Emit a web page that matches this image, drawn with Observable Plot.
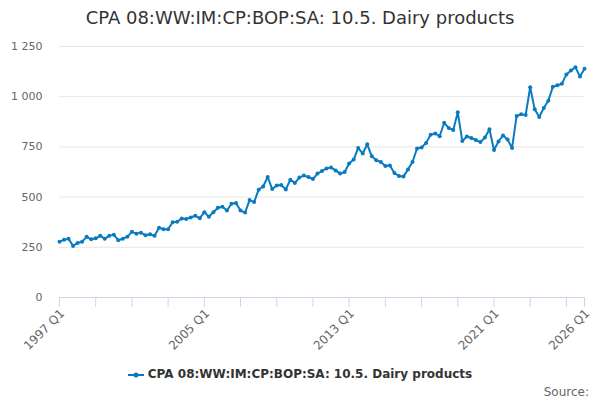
<!DOCTYPE html>
<html>
<head>
<meta charset="utf-8">
<script src="https://cdn.jsdelivr.net/npm/d3@7"></script>
<script src="https://cdn.jsdelivr.net/npm/@observablehq/plot@0.6"></script>
<style>
  html, body { margin: 0; padding: 0; background: #fff; }
  body { width: 600px; height: 400px; overflow: hidden; font-family: "DejaVu Sans", sans-serif; position: relative; }
  #title { height: 36px; line-height: 36px; text-align: center; font-size: 18px; color: #333; }
  #legend { position: absolute; top: 367px; left: 0; width: 600px; text-align: center; font-size: 12px; font-weight: bold; color: #333; }
  #legend svg { vertical-align: middle; margin-right: 4px; }
  #source { position: absolute; top: 385px; right: 11px; font-size: 12px; color: #666; }
</style>
</head>
<body>
<div id="title">CPA 08:WW:IM:CP:BOP:SA: 10.5. Dairy products</div>
<div id="chart"></div>
<div id="legend"></div>
<div id="source">Source:</div>
<script>
const seriesName = "CPA 08:WW:IM:CP:BOP:SA: 10.5. Dairy products";
const startYear = 1997;
const values = [
  278, 287, 293, 257, 272, 278, 302, 290, 295, 307,
  293, 307, 313, 285, 293, 303, 327, 318, 323, 310,
  315, 307, 347, 340, 340, 375, 377, 393, 391, 399,
  407, 395, 425, 402, 425, 447, 452, 433, 467, 470,
  433, 423, 485, 475, 537, 553, 600, 540, 558, 560,
  538, 587, 570, 598, 607, 600, 590, 617, 630, 643,
  647, 633, 617, 625, 667, 687, 745, 717, 763, 703,
  683, 675, 655, 657, 620, 605, 602, 638, 675, 742,
  747, 770, 810, 817, 803, 870, 844, 834, 922, 779,
  802, 794, 784, 774, 797, 838, 735, 777, 807, 787,
  745, 904, 912, 909, 1047, 937, 899, 944, 980, 1049,
  1057, 1064, 1111, 1130, 1147, 1100, 1139
];
const quarters = values.map((v, i) => `${startYear + Math.floor(i / 4)} Q${(i % 4) + 1}`);
const tickQuarters = quarters.filter((q, i) => i % 8 === 0 || i === quarters.length - 1);
const labelQuarters = ["1997 Q1", "2005 Q1", "2013 Q1", "2021 Q1", "2026 Q1"];
const yTicks = [0, 250, 500, 750, 1000, 1250];

const data = values.map((v, i) => ({ quarter: quarters[i], value: v }));
const color = "#0a7bc1";
const fmt = d => d3.format(",")(d).replace(/,/g, " ");

const chart = Plot.plot({
  width: 600,
  height: 320,
  marginTop: 10,
  marginBottom: 59,
  marginLeft: 59,
  marginRight: 16,
  style: { fontFamily: "DejaVu Sans, sans-serif", fontSize: "11px", color: "#666", background: "#fff" },
  x: { type: "point", domain: quarters, padding: 0 },
  y: { domain: [0, 1250] },
  marks: [
    Plot.ruleY(yTicks.filter(d => d > 0), { stroke: "#e6e6e6", strokeWidth: 1 }),
    Plot.axisY({ ticks: yTicks, tickFormat: fmt, tickSize: 0, tickPadding: 17, fill: "#666", label: null }),
    Plot.ruleY([0], { stroke: "#ccd6eb", strokeWidth: 1 }),
    Plot.axisX({
      ticks: tickQuarters,
      tickFormat: () => "",
      tickSize: 10,
      stroke: "#ccd6eb",
      label: null
    }),
    Plot.axisX({
      ticks: labelQuarters,
      tickSize: 0,
      tickRotate: -45,
      tickPadding: 14,
      dx: 3,
      fontSize: 12,
      fill: "#666",
      label: null
    }),
    Plot.line(data, { x: "quarter", y: "value", stroke: color, strokeWidth: 2 }),
    Plot.dot(data, { x: "quarter", y: "value", r: 2, fill: color, stroke: "none" })
  ]
});
document.getElementById("chart").appendChild(chart);

document.getElementById("legend").innerHTML =
  `<svg width="16" height="12"><line x1="0" y1="6" x2="16" y2="6" stroke="${color}" stroke-width="2"/><circle cx="8" cy="6" r="2.5" fill="${color}"/></svg>` +
  `<span></span>`;
document.querySelector("#legend span").textContent = seriesName;
</script>
</body>
</html>
